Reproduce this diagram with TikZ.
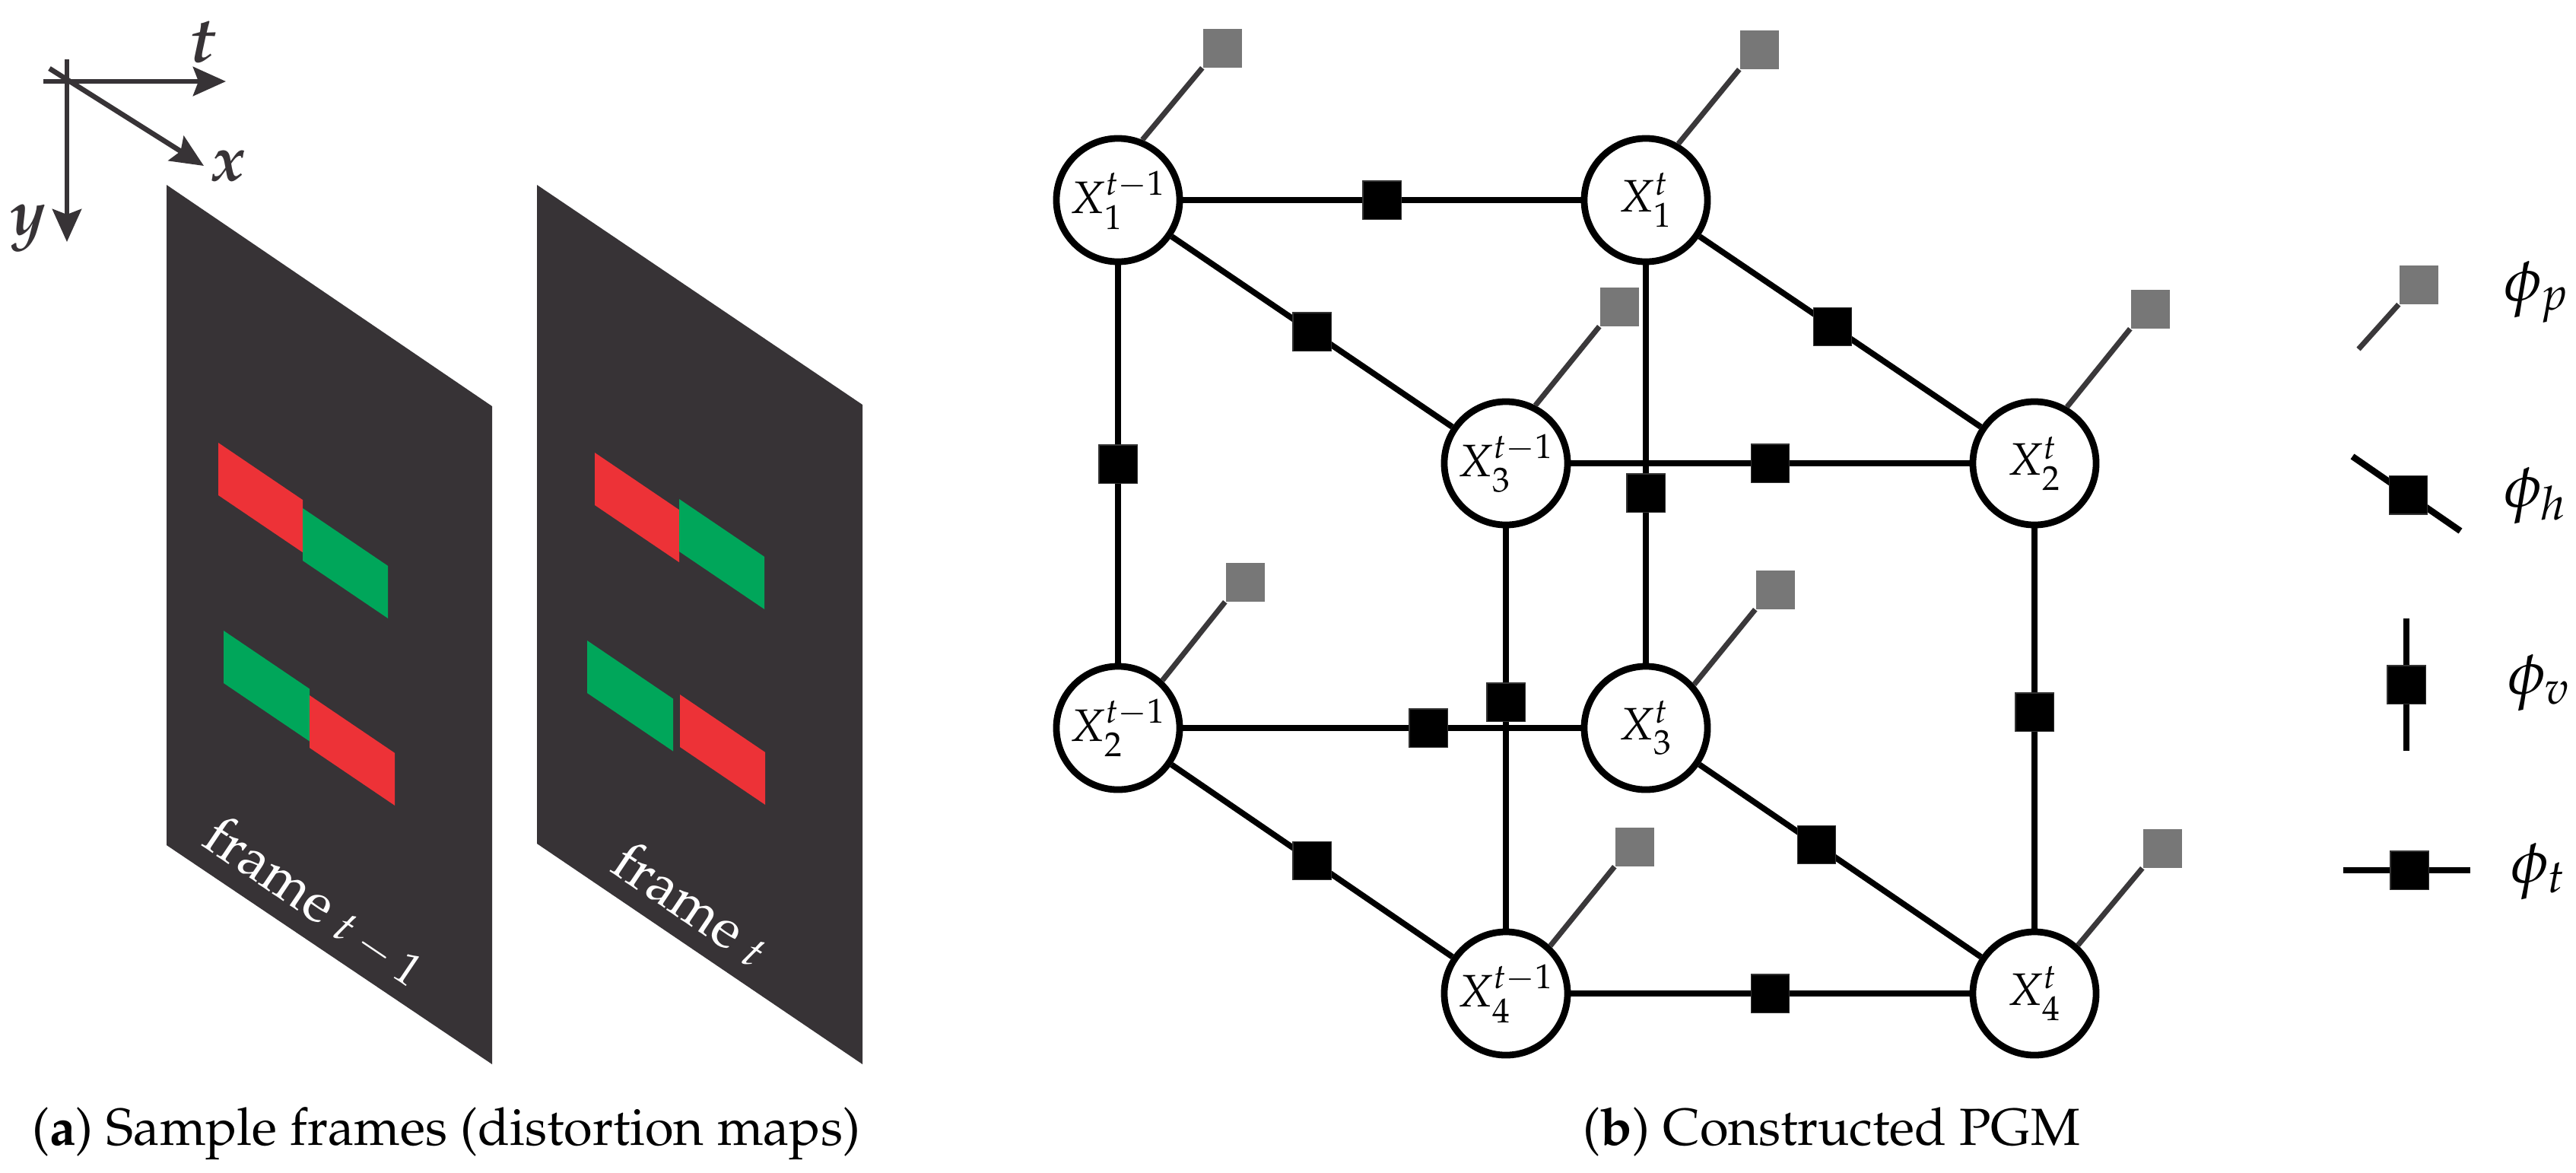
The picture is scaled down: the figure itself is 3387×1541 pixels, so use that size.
\documentclass[tikz,border=0pt]{standalone}
\usepackage[T1]{fontenc}
\usepackage{mathpazo}
\usetikzlibrary{calc,arrows.meta}
\definecolor{framecol}{RGB}{55,51,54}
\definecolor{patchred}{RGB}{237,50,55}
\definecolor{patchgreen}{RGB}{0,166,90}
\definecolor{priorgray}{RGB}{119,119,119}
\definecolor{prilinecol}{RGB}{58,56,58}
\tikzset{
  var/.style={circle, draw=black, line width=2.5pt, fill=white, minimum size=1.62cm, inner sep=0pt, font=\fontsize{17}{20}\selectfont},
  fac/.style={rectangle, fill=black, draw=black!80, line width=0.3pt, minimum size=0.5cm, inner sep=0pt},
  pri/.style={rectangle, fill=priorgray, minimum size=0.51cm, inner sep=0pt},
  edge/.style={line width=2.2pt, black},
  legedge/.style={line width=2.4pt, black},
  priline/.style={line width=2pt, prilinecol},
  axis/.style={line width=1.9pt, framecol, -{Stealth[length=0.43cm, width=0.38cm, inset=0.07cm]}},
  axlabel/.style={inner sep=0pt, text=framecol, font=\fontsize{24}{28}\selectfont\bfseries\itshape},
  legtext/.style={inner sep=0pt, anchor=west, font=\fontsize{23}{27}\selectfont},
  frametext/.style={inner sep=0pt, anchor=base west, rotate=-34, text=white, font=\fontsize{21}{25}\selectfont},
  caption/.style={inner sep=0pt, anchor=base west, font=\fontsize{19.5}{23}\selectfont}
}
\newcommand{\patch}[4]{\fill[#1] (#2,#3) -- ++(#4,{0.677*#4}) -- ++(0,69) -- ++(-#4,{-0.677*#4}) -- cycle;}
\newcommand{\framesub}[1]{\hspace{5pt}\raisebox{-0.8pt}{\fontsize{17}{20}\selectfont$#1$}}
\begin{document}
\begin{tikzpicture}[x=0.01cm, y=-0.01cm]
\useasboundingbox (0,0) rectangle (3387,1541);
% ---------- left panel: axes ----------
\coordinate (vtop) at (88,78);
\coordinate (vtip) at (88,318);
\coordinate (hleft) at (57,107);
\coordinate (htip) at (297,107);
\coordinate (xstart) at (65,90);
\coordinate (xtip) at (268,218);
\draw[axis] (vtop) -- (vtip);
\draw[axis] (hleft) -- (htip);
\draw[axis] (xstart) -- (xtip);
\node[axlabel] (lt) at (266,56) {t};
\node[axlabel] (lx) at (301,219) {x};
\node[axlabel] (ly) at (37,300) {y};
% ---------- frames ----------
\fill[framecol] (219,243) -- (647,534) -- (647,1399) -- (219,1111) -- cycle;
\fill[framecol] (706,243) -- (1134,532) -- (1134,1399) -- (706,1109) -- cycle;
\patch{patchred}{287}{582}{111}
\patch{patchgreen}{398}{668}{112}
\patch{patchgreen}{294}{829}{113}
\patch{patchred}{407}{914}{112}
\patch{patchred}{782}{595}{111}
\patch{patchgreen}{893}{656}{112}
\patch{patchgreen}{772}{842}{113}
\patch{patchred}{894}{913}{112}
\node[frametext] (ft1) at (263,1110) {frame\framesub{t-1}};
\node[frametext] (ft2) at (800,1144) {frame\framesub{t}};
\node[caption] (capa) at (42,1505) {(\textbf{a}) Sample frames (distortion maps)};
% ---------- PGM ----------
\node[var] (X1a) at (1470,263) {$X_1^{t-1}$};
\node[var] (X1t) at (2164,263) {$X_1^{t}$};
\node[var] (X3a) at (1980,609) {$X_3^{t-1}$};
\node[var] (X2t) at (2675,609) {$X_2^{t}$};
\node[var] (X2a) at (1470,957) {$X_2^{t-1}$};
\node[var] (X3t) at (2164,957) {$X_3^{t}$};
\node[var] (X4a) at (1980,1306) {$X_4^{t-1}$};
\node[var] (X4t) at (2675,1306) {$X_4^{t}$};
\draw[edge] (X1a) -- (X1t);
\draw[edge] (X1a) -- (X3a);
\draw[edge] (X1t) -- (X2t);
\draw[edge] (X1a) -- (X2a);
\draw[edge] (X3a) -- (X2t);
\draw[edge] (X1t) -- (X3t);
\draw[edge] (X3a) -- (X4a);
\draw[edge] (X2a) -- (X3t);
\draw[edge] (X2t) -- (X4t);
\draw[edge] (X2a) -- (X4a);
\draw[edge] (X3t) -- (X4t);
\draw[edge] (X4a) -- (X4t);
\node[fac] (f1) at ($(X1a)!0.5!(X1t)$) {};
\node[fac] (f2) at ($(X1a)!0.5!(X3a)$) {};
\node[fac] (f3) at ($(X1t)!0.48!(X2t)$) {};
\node[fac] (f4) at ($(X1a)!0.5!(X2a)$) {};
\node[fac] (f5) at ($(X3a)!0.5!(X2t)$) {};
\node[fac] (f6) at (2164,648) {};
\node[fac] (f7) at (1980,923) {};
\node[fac] (f8) at (1878,957) {};
\node[fac] (f9) at (2675,936) {};
\node[fac] (f10) at ($(X2a)!0.5!(X4a)$) {};
\node[fac] (f11) at ($(X3t)!0.44!(X4t)$) {};
\node[fac] (f12) at ($(X4a)!0.5!(X4t)$) {};
% priors
\node[pri] (P1a) at (1607,63) {};
\node[pri] (P1t) at (2313,65) {};
\node[pri] (P3a) at (2129,403) {};
\node[pri] (P2t) at (2827,406) {};
\node[pri] (P2a) at (1637,765) {};
\node[pri] (P3t) at (2334,775) {};
\node[pri] (P4a) at (2149,1113) {};
\node[pri] (P4t) at (2843,1115) {};
\draw[priline] (X1a.68) -- (P1a.south west);
\draw[priline] (X1t.60) -- (P1t.south west);
\draw[priline] (X3a.63) -- (P3a.south west);
\draw[priline] (X2t.60) -- (P2t.south west);
\draw[priline] (X2a.47) -- (P2a.south west);
\draw[priline] (X3t.42) -- (P3t.south west);
\draw[priline] (X4a.47) -- (P4a.south west);
\draw[priline] (X4t.48) -- (P4t.south west);
% ---------- legend ----------
\coordinate (LpEnd) at (3101,459);
\node[pri] (Lp) at (3180,374) {};
\draw[priline] (LpEnd) -- (Lp.south west);
\coordinate (Lh1) at (3093,600);
\coordinate (Lh2) at (3235,698);
\draw[legedge] (Lh1) -- (Lh2);
\node[fac] (Lh) at ($(Lh1)!0.52!(Lh2)$) {};
\coordinate (Lv1) at (3164,813);
\coordinate (Lv2) at (3164,987);
\draw[legedge] (Lv1) -- (Lv2);
\node[fac] (Lv) at (3164,900) {};
\coordinate (Lt1) at (3081,1144);
\coordinate (Lt2) at (3248,1144);
\draw[legedge] (Lt1) -- (Lt2);
\node[fac] (Lt) at (3168,1144) {};
\node[legtext] (tp) at (3292,384) {$\phi_p$};
\node[legtext] (th) at (3292,652) {$\phi_h$};
\node[legtext] (tv) at (3297,898) {$\phi_v$};
\node[legtext] (tt) at (3301,1146) {$\phi_t$};
\node[caption] (capb) at (2081,1505) {(\textbf{b}) Constructed PGM};
\end{tikzpicture}
\end{document}
